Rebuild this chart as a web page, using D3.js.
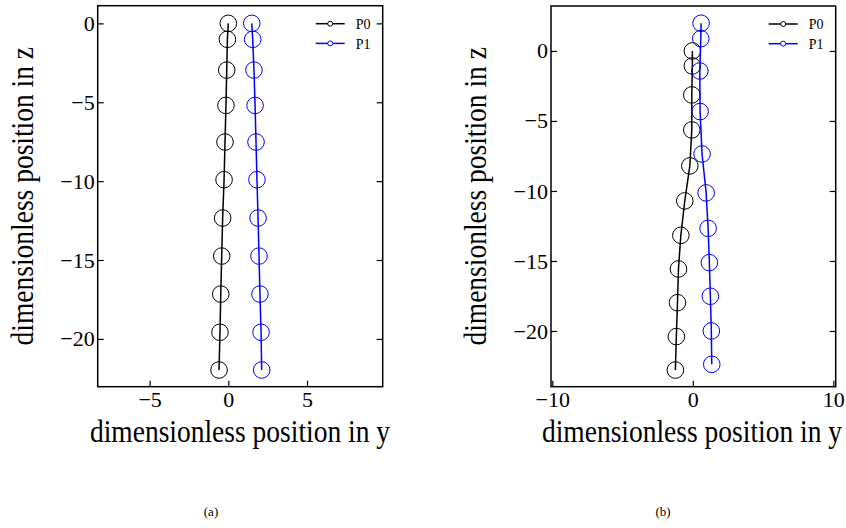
<!DOCTYPE html>
<html>
<head>
<meta charset="utf-8">
<script src="https://cdn.jsdelivr.net/npm/d3@7"></script>
<style>
  body { margin: 0; background: #fff; }
</style>
</head>
<body>
<script>
// panel (a)
var aZ = [0, -1.01, -2.96, -5.2, -7.52, -9.91, -12.34, -14.75, -17.16, -19.58, -21.97];
var aP0 = [0, -0.06, -0.1, -0.15, -0.21, -0.27, -0.36, -0.42, -0.48, -0.53, -0.59];
var aP1 = [1.49, 1.55, 1.63, 1.70, 1.76, 1.82, 1.89, 1.95, 2.01, 2.08, 2.12];
var aXTicks = [-5, 0, 5];

// panel (b)
var bZ0 = [0, -1.07, -3.14, -5.64, -8.21, -10.71, -13.17, -15.57, -17.98, -20.4, -22.79];
var bP0 = [-0.03, -0.03, -0.07, -0.07, -0.21, -0.57, -0.85, -1.02, -1.09, -1.17, -1.24];
var bZ1 = [1.98, 0.88, -1.43, -4.33, -7.36, -10.14, -12.67, -15.12, -17.52, -20.0, -22.38];
var bP1 = [0.59, 0.57, 0.5, 0.52, 0.66, 0.95, 1.09, 1.18, 1.25, 1.32, 1.35];
var bXTicks = [-10, 0, 10];

var zTicks = [0, -5, -10, -15, -20];
var names = ["P0", "P1"];
var colors = ["#000000", "#0000ff"];
var FONT = "'Liberation Serif'";

var svg = d3.select("body").append("svg")
  .attr("width", 846).attr("height", 528);

function panel(opt) {
  var w = opt.x1 - opt.x0, h = opt.y1 - opt.y0;
  var g = svg.append("g").attr("transform", "translate(" + opt.x0 + "," + opt.y0 + ")");
  var x = d3.scaleLinear().domain(opt.xDom).range([0, w]);
  var y = d3.scaleLinear().domain(opt.yDom).range([h, 0]);

  g.append("rect").attr("width", w).attr("height", h)
    .attr("fill", "none").attr("stroke", "#000").attr("stroke-width", 1.5);

  var left = g.append("g").call(d3.axisLeft(y).tickValues(zTicks).tickSize(-6).tickPadding(3));
  var bottom = g.append("g").attr("transform", "translate(0," + h + ")")
    .call(d3.axisBottom(x).tickValues(opt.xTicks).tickSize(-6).tickPadding(5));
  var right = g.append("g").attr("transform", "translate(" + w + ",0)")
    .call(d3.axisRight(y).tickValues(zTicks).tickSize(-6).tickFormat(""));
  [left, bottom, right].forEach(function(a) {
    a.attr("font-family", null).attr("font-size", null);
    a.select(".domain").remove();
    a.selectAll(".tick line").attr("stroke", "#000").attr("stroke-width", 1.2);
    a.selectAll(".tick text").attr("fill", "#000")
      .style("font-family", FONT).style("font-size", "22px");
  });

  opt.series.forEach(function(s, i) {
    var pts = s.ys.map(function(v, k) { return [v, s.zs[k]]; });
    g.append("path").datum(pts)
      .attr("d", d3.line().x(function(d) { return x(d[0]); }).y(function(d) { return y(d[1]); }))
      .attr("fill", "none").attr("stroke", colors[i]).attr("stroke-width", 1.5);
    g.selectAll(".pt" + i).data(pts).enter().append("circle")
      .attr("cx", function(d) { return x(d[0]); })
      .attr("cy", function(d) { return y(d[1]); })
      .attr("r", 8.3)
      .attr("fill", "none").attr("stroke", colors[i]).attr("stroke-width", 1);
  });

  // legend
  var lg = g.append("g").attr("transform", "translate(" + (w - 67) + ",18)");
  names.forEach(function(n, i) {
    var row = lg.append("g").attr("transform", "translate(0," + (i * 19.7) + ")");
    row.append("line").attr("x1", 0).attr("x2", 29).attr("y1", 0).attr("y2", 0)
      .attr("stroke", colors[i]).attr("stroke-width", 1.5);
    row.append("circle").attr("cx", 14.5).attr("cy", 0).attr("r", 2.5)
      .attr("fill", "#fff").attr("stroke", colors[i]).attr("stroke-width", 1);
    row.append("text").attr("x", 40).attr("y", 5.3)
      .style("font-family", FONT).style("font-size", "14px").text(n);
  });

  // axis titles (narrow serif look: smaller size, stretched vertically)
  svg.append("text")
    .attr("transform", "translate(" + opt.titleX + ",442) scale(1,1.13)")
    .attr("text-anchor", "middle")
    .style("font-family", FONT).style("font-size", "27.5px")
    .text("dimensionless position in y");
  svg.append("text")
    .attr("transform", "translate(" + opt.labX + "," + (opt.y0 + h / 2) + ") rotate(-90) scale(1,1.13)")
    .attr("text-anchor", "middle")
    .style("font-family", FONT).style("font-size", "27.5px")
    .text("dimensionless position in z");
  svg.append("text")
    .attr("x", opt.capX).attr("y", 516)
    .attr("text-anchor", "middle")
    .style("font-family", FONT).style("font-size", "13px")
    .text(opt.cap);
}

panel({
  x0: 97.7, x1: 382.7, y0: 5.7, y1: 386.7,
  xDom: [-8.3, 9.81], yDom: [-23.03, 1.12], xTicks: aXTicks,
  series: [{ys: aP0, zs: aZ}, {ys: aP1, zs: aZ}],
  titleX: 240, labX: 33, capX: 211, cap: "(a)"
});
panel({
  x0: 551, x1: 835.7, y0: 6, y1: 386.7,
  xDom: [-10.09, 10.17], yDom: [-23.98, 3.21], xTicks: bXTicks,
  series: [{ys: bP0, zs: bZ0}, {ys: bP1, zs: bZ1}],
  titleX: 692, labX: 486, capX: 663, cap: "(b)"
});
</script>
</body>
</html>
